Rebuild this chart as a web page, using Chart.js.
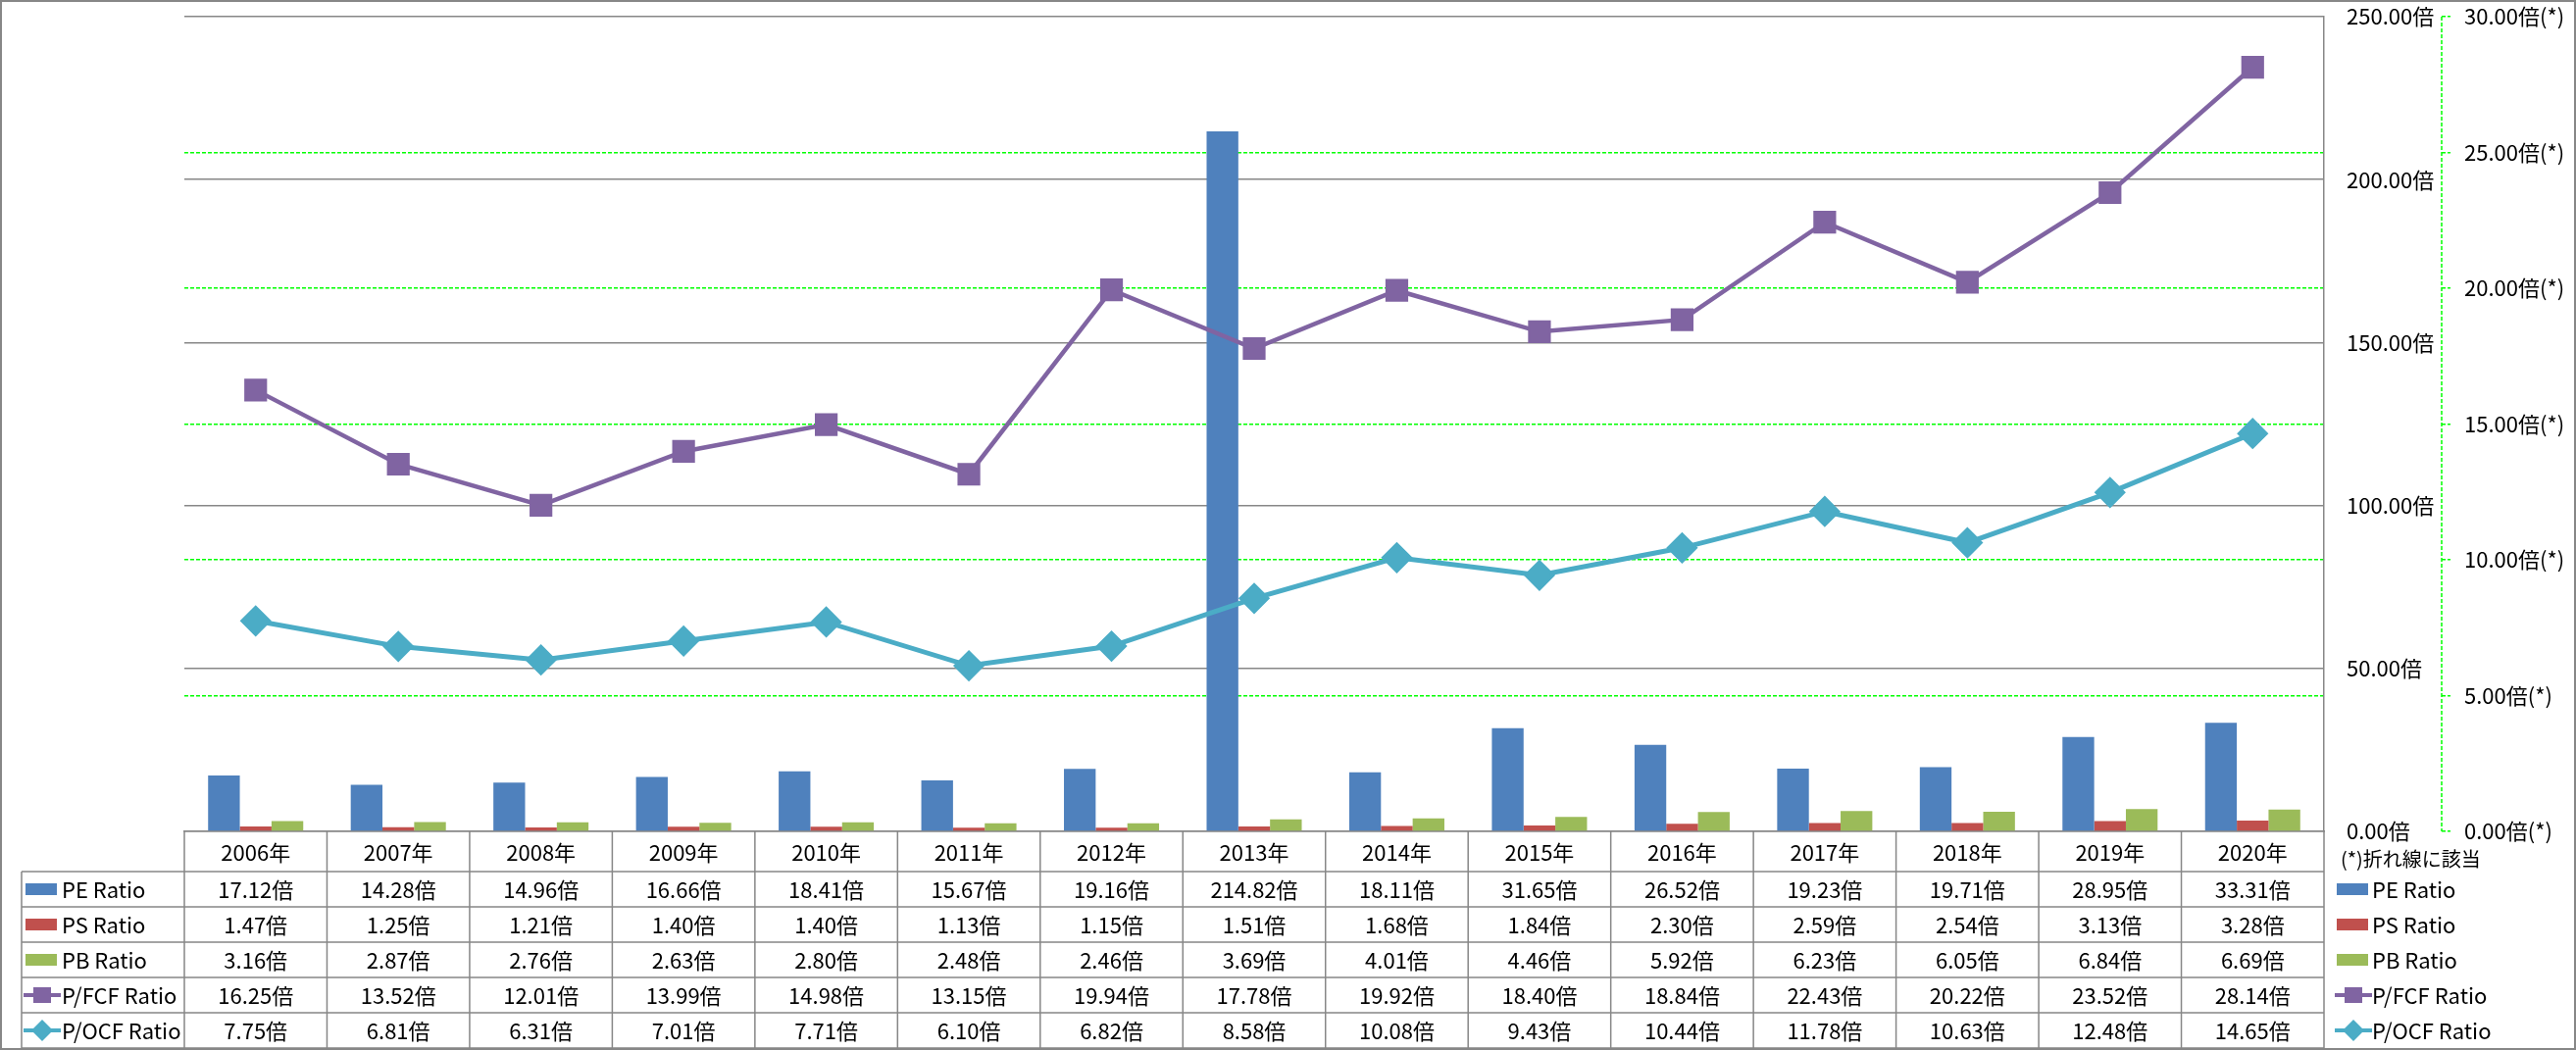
<!DOCTYPE html>
<html lang="ja">
<head>
<meta charset="utf-8">
<script src="https://cdn.jsdelivr.net/npm/chart.js"></script>
<style>
  html, body { margin: 0; padding: 0; background: #ffffff; }
  #grafico { display: block; }
</style>
</head>
<body>
<canvas id="grafico" width="2627" height="1071"></canvas>
<script>

const anios = ['2006年', '2007年', '2008年', '2009年', '2010年', '2011年', '2012年', '2013年',
    '2014年', '2015年', '2016年', '2017年', '2018年', '2019年', '2020年'];
const peRatio = [17.12, 14.28, 14.96, 16.66, 18.41, 15.67, 19.16, 214.82, 18.11, 31.65, 26.52, 19.23, 19.71, 28.95, 33.31];
const psRatio = [1.47, 1.25, 1.21, 1.40, 1.40, 1.13, 1.15, 1.51, 1.68, 1.84, 2.30, 2.59, 2.54, 3.13, 3.28];
const pbRatio = [3.16, 2.87, 2.76, 2.63, 2.80, 2.48, 2.46, 3.69, 4.01, 4.46, 5.92, 6.23, 6.05, 6.84, 6.69];
const pfcfRatio = [16.25, 13.52, 12.01, 13.99, 14.98, 13.15, 19.94, 17.78, 19.92, 18.40, 18.84, 22.43, 20.22, 23.52, 28.14];
const pocfRatio = [7.75, 6.81, 6.31, 7.01, 7.71, 6.10, 6.82, 8.58, 10.08, 9.43, 10.44, 11.78, 10.63, 12.48, 14.65];
const nombresSeries = ['PE Ratio', 'PS Ratio', 'PB Ratio', 'P/FCF Ratio', 'P/OCF Ratio'];
const notaLineas = '(*)折れ線に該当';

const colores = ['#4F81BD', '#C0504D', '#9BBB59', '#8064A2', '#4BACC6'];
const gris = '#878787';
const verde = '#00FF00';
const fuente = "'Noto Sans CJK JP', 'Noto Sans', sans-serif";

Chart.defaults.font.family = fuente;
Chart.defaults.font.size = 22;
Chart.defaults.color = '#000000';

const grafico = document.querySelector('#grafico');

// dibuja una clave de leyenda (barra o linea con marcador)
function dibujarClave(ctx, i, x, y) {
    ctx.save();
    ctx.fillStyle = colores[i];
    ctx.strokeStyle = colores[i];
    if (i < 3) {
        ctx.fillRect(x, y - 6, 32, 12);
    } else {
        ctx.lineWidth = 4;
        ctx.beginPath();
        ctx.moveTo(x - 2, y);
        ctx.lineTo(x + 36, y);
        ctx.stroke();
        ctx.beginPath();
        if (i === 3) {
            ctx.rect(x + 8, y - 8, 18, 16);
        } else {
            ctx.moveTo(x + 17, y - 11);
            ctx.lineTo(x + 28, y);
            ctx.lineTo(x + 17, y + 11);
            ctx.lineTo(x + 6, y);
            ctx.closePath();
        }
        ctx.fill();
    }
    ctx.restore();
}

const tablaDatos = {
    id: 'tablaDatos',
    afterDraw(chart) {
        const ctx = chart.ctx;
        const ejeX = chart.scales.x;
        const ejeY1 = chart.scales.y1;
        const area = chart.chartArea;
        const filas = [peRatio, psRatio, pbRatio, pfcfRatio, pocfRatio];
        const ancho = (ejeX.right - ejeX.left) / anios.length;
        const arriba = ejeX.top;
        const inicioFilas = arriba + 41;
        const altoFila = 36;
        const abajo = inicioFilas + altoFila * filas.length;
        const izquierda = 22;

        ctx.save();
        ctx.strokeStyle = gris;
        ctx.lineWidth = 1.5;
        ctx.beginPath();
        for (let r = 0; r <= filas.length; r++) {
            const y = inicioFilas + r * altoFila;
            ctx.moveTo(izquierda, y);
            ctx.lineTo(ejeX.right, y);
        }
        ctx.moveTo(izquierda, inicioFilas);
        ctx.lineTo(izquierda, abajo);
        for (let c = 0; c <= anios.length; c++) {
            const x = ejeX.left + c * ancho;
            ctx.moveTo(x, arriba);
            ctx.lineTo(x, abajo);
        }
        ctx.stroke();

        // valores de la tabla
        ctx.fillStyle = '#000000';
        ctx.font = '22px ' + fuente;
        ctx.textAlign = 'center';
        ctx.textBaseline = 'middle';
        filas.forEach((serie, r) => {
            const y = inicioFilas + r * altoFila + altoFila / 2 + 1;
            serie.forEach((v, c) => {
                ctx.fillText(v.toFixed(2) + '倍', ejeX.getPixelForValue(c), y);
            });
        });

        // nombres de series a la izquierda y leyenda a la derecha
        ctx.textAlign = 'left';
        nombresSeries.forEach((nombre, r) => {
            const y = inicioFilas + r * altoFila + altoFila / 2;
            dibujarClave(ctx, r, 26, y);
            ctx.fillText(nombre, 63, y + 1);
            dibujarClave(ctx, r, ejeX.right + 13, y);
            ctx.fillText(nombre, ejeX.right + 49, y + 1);
        });

        ctx.font = '20px ' + fuente;
        ctx.fillText(notaLineas, ejeX.right + 17, arriba + 28);

        // linea del eje secundario
        ctx.strokeStyle = verde;
        ctx.lineWidth = 1.5;
        ctx.setLineDash([4, 2]);
        ctx.beginPath();
        ctx.moveTo(ejeY1.left, area.top);
        ctx.lineTo(ejeY1.left, area.bottom);
        ctx.stroke();
        ctx.setLineDash([]);

        // borde exterior
        ctx.strokeStyle = gris;
        ctx.lineWidth = 2;
        ctx.strokeRect(1, 1, chart.width - 2, chart.height - 2);
        ctx.restore();
    }
};

new Chart(grafico, {
    type: 'bar',
    data: {
        labels: anios,
        datasets: [{
            type: 'line',
            label: nombresSeries[3],
            data: pfcfRatio,
            yAxisID: 'y1',
            order: 0,
            borderColor: colores[3],
            backgroundColor: colores[3],
            borderWidth: 4.5,
            tension: 0,
            pointStyle: 'rect',
            pointRadius: 15,
            pointBorderWidth: 2,
            pointBackgroundColor: colores[3],
            pointBorderColor: colores[3]
        }, {
            type: 'line',
            label: nombresSeries[4],
            data: pocfRatio,
            yAxisID: 'y1',
            order: 0,
            borderColor: colores[4],
            backgroundColor: colores[4],
            borderWidth: 5,
            tension: 0,
            pointStyle: 'rectRot',
            pointRadius: 14,
            pointBorderWidth: 3,
            pointBackgroundColor: colores[4],
            pointBorderColor: colores[4]
        }, {
            label: nombresSeries[0],
            data: peRatio,
            yAxisID: 'y',
            order: 1,
            backgroundColor: colores[0]
        }, {
            label: nombresSeries[1],
            data: psRatio,
            yAxisID: 'y',
            order: 1,
            backgroundColor: colores[1]
        }, {
            label: nombresSeries[2],
            data: pbRatio,
            yAxisID: 'y',
            order: 1,
            backgroundColor: colores[2]
        }]
    },
    options: {
        responsive: false,
        animation: false,
        layout: {
            padding: { left: 188, top: 16, right: 0, bottom: 0 }
        },
        datasets: {
            bar: {
                categoryPercentage: 0.667,
                barPercentage: 1.0
            }
        },
        scales: {
            x: {
                offset: true,
                grid: { display: false, drawTicks: false },
                border: { display: true, color: gris, width: 1.5 },
                ticks: { padding: 8, maxRotation: 0 },
                afterFit(scale) { scale.height = 223; }
            },
            y: {
                position: 'right',
                min: 0,
                max: 250,
                grid: { color: gris, lineWidth: 1.5, drawTicks: false },
                border: { display: true, color: gris, width: 1.5 },
                ticks: {
                    stepSize: 50,
                    padding: 23,
                    callback: (v) => v.toFixed(2) + '倍'
                },
                afterFit(scale) {
                    scale.width = 120;
                    scale.paddingTop = 0;
                    scale.paddingBottom = 0;
                }
            },
            y1: {
                position: 'right',
                min: 0,
                max: 30,
                grid: {
                    color: (c) => (c.tick && (c.tick.value === 0 || c.tick.value === 30)) ? 'rgba(0,0,0,0)' : verde,
                    tickColor: verde,
                    lineWidth: 1.5,
                    tickLength: 9,
                    tickBorderDash: [4, 2]
                },
                border: { display: false, dash: [4, 2] },
                ticks: {
                    stepSize: 5,
                    padding: 14,
                    callback: (v) => v.toFixed(2) + '倍(*)'
                },
                afterFit(scale) {
                    scale.width = 137;
                    scale.paddingTop = 0;
                    scale.paddingBottom = 0;
                }
            }
        },
        plugins: {
            legend: { display: false },
            tooltip: { enabled: false }
        }
    },
    plugins: [tablaDatos]
});
</script>
</body>
</html>
